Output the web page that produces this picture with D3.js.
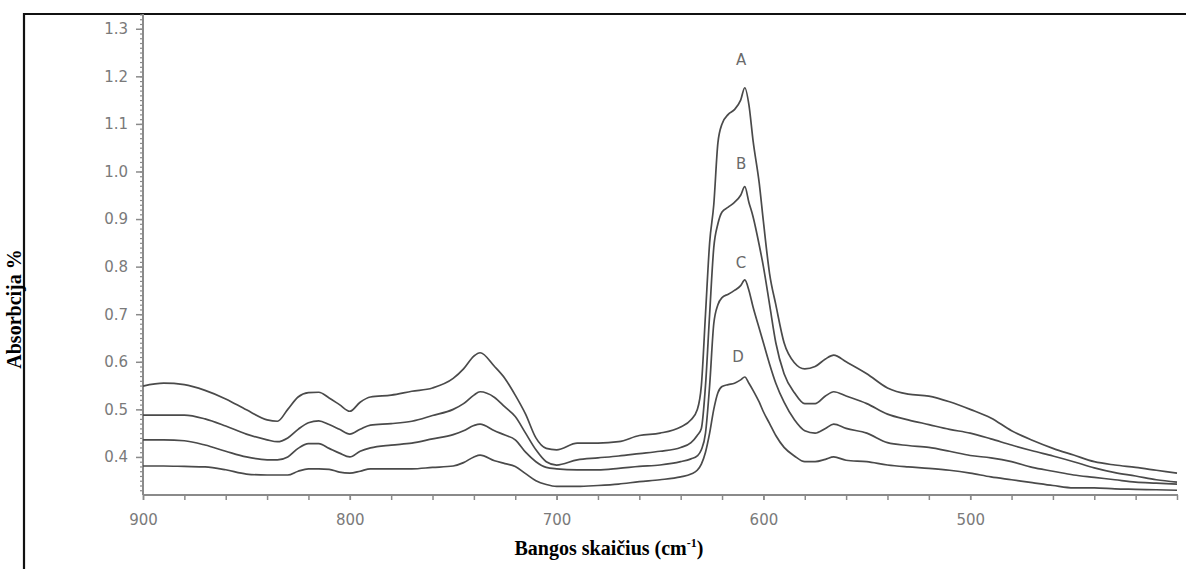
<!DOCTYPE html>
<html>
<head>
<meta charset="utf-8">
<script src="https://cdn.jsdelivr.net/npm/d3@7"></script>
<style>
  html, body { margin: 0; padding: 0; background: #fff; }
  svg { display: block; }
</style>
</head>
<body>
<svg id="chart" width="1186" height="569"></svg>
<script>
// ---- data (wavenumber, cm-1) ----
const wavenumbers = [900, 890, 880, 870, 860, 850, 840, 835, 830, 825, 820, 815, 810, 805, 800, 795, 790, 780, 770, 760, 750, 745, 740, 737, 730, 725, 720, 715, 710, 705, 700, 690, 680, 670, 660, 650, 640, 635, 632, 630, 628, 626, 624, 622, 620, 617, 614, 611, 609, 607, 605, 602, 600, 597, 594, 590, 585, 580, 575, 570, 566, 560, 550, 540, 530, 520, 510, 500, 490, 480, 470, 460, 450, 440, 430, 420, 410, 400];

const seriesA = [0.549, 0.555, 0.552, 0.540, 0.522, 0.499, 0.478, 0.475, 0.500, 0.526, 0.535, 0.536, 0.524, 0.510, 0.496, 0.515, 0.526, 0.530, 0.538, 0.545, 0.565, 0.585, 0.612, 0.619, 0.590, 0.565, 0.530, 0.490, 0.440, 0.418, 0.415, 0.429, 0.429, 0.432, 0.445, 0.450, 0.463, 0.478, 0.499, 0.550, 0.700, 0.850, 0.930, 1.060, 1.100, 1.120, 1.130, 1.150, 1.176, 1.140, 1.065, 0.975, 0.895, 0.785, 0.720, 0.640, 0.598, 0.585, 0.590, 0.606, 0.614, 0.600, 0.575, 0.545, 0.532, 0.528, 0.516, 0.500, 0.482, 0.455, 0.435, 0.418, 0.404, 0.390, 0.383, 0.378, 0.372, 0.366];

const seriesB = [0.488, 0.488, 0.488, 0.480, 0.465, 0.448, 0.436, 0.432, 0.440, 0.458, 0.472, 0.476, 0.468, 0.458, 0.448, 0.458, 0.467, 0.470, 0.475, 0.487, 0.500, 0.512, 0.530, 0.537, 0.525, 0.505, 0.485, 0.450, 0.415, 0.390, 0.383, 0.394, 0.398, 0.402, 0.407, 0.412, 0.420, 0.430, 0.445, 0.460, 0.550, 0.700, 0.840, 0.890, 0.915, 0.925, 0.935, 0.950, 0.968, 0.935, 0.905, 0.845, 0.800, 0.720, 0.640, 0.575, 0.535, 0.512, 0.512, 0.528, 0.537, 0.528, 0.512, 0.490, 0.478, 0.468, 0.458, 0.450, 0.438, 0.425, 0.413, 0.402, 0.390, 0.377, 0.367, 0.360, 0.352, 0.347];

const seriesC = [0.436, 0.436, 0.434, 0.425, 0.412, 0.400, 0.394, 0.394, 0.400, 0.418, 0.428, 0.428, 0.418, 0.408, 0.400, 0.412, 0.419, 0.425, 0.429, 0.438, 0.447, 0.455, 0.466, 0.469, 0.455, 0.446, 0.436, 0.410, 0.390, 0.378, 0.375, 0.373, 0.373, 0.376, 0.380, 0.383, 0.390, 0.396, 0.402, 0.415, 0.450, 0.550, 0.680, 0.720, 0.735, 0.742, 0.750, 0.760, 0.772, 0.750, 0.715, 0.670, 0.640, 0.595, 0.555, 0.515, 0.478, 0.455, 0.450, 0.460, 0.469, 0.460, 0.450, 0.430, 0.424, 0.420, 0.412, 0.403, 0.398, 0.390, 0.378, 0.370, 0.362, 0.357, 0.352, 0.347, 0.345, 0.343];

const seriesD = [0.381, 0.381, 0.380, 0.379, 0.373, 0.364, 0.362, 0.362, 0.362, 0.370, 0.375, 0.375, 0.374, 0.368, 0.366, 0.370, 0.375, 0.375, 0.375, 0.378, 0.381, 0.388, 0.400, 0.404, 0.392, 0.386, 0.380, 0.365, 0.350, 0.342, 0.338, 0.338, 0.340, 0.343, 0.348, 0.352, 0.358, 0.364, 0.372, 0.385, 0.410, 0.450, 0.500, 0.535, 0.548, 0.552, 0.555, 0.562, 0.568, 0.555, 0.540, 0.515, 0.495, 0.470, 0.445, 0.420, 0.402, 0.390, 0.390, 0.395, 0.400, 0.393, 0.390, 0.383, 0.379, 0.376, 0.372, 0.366, 0.358, 0.352, 0.346, 0.340, 0.335, 0.335, 0.333, 0.332, 0.331, 0.330];

const seriesNames = ["A", "B", "C", "D"];
const seriesLabelPos = [[610.8, 1.234], [610.8, 1.014], [610.8, 0.806], [612.3, 0.608]];

const xMajorTicks = [900, 800, 700, 600, 500];
const xMinorTicks = d3.range(900, 399, -20);
const yMajorTicks = [0.4, 0.5, 0.6, 0.7, 0.8, 0.9, 1.0, 1.1, 1.2, 1.3];
const yMinorTicks = d3.range(33, 134).map(d => d / 100);

const xTitle = "Bangos skaičius (cm";
const xTitleSup = "-1";
const yTitle = "Absorbcija %";

// ---- drawing ----
const svg = d3.select("#chart");
const x = d3.scaleLinear().domain([900, 400]).range([143, 1177]);
const y = d3.scaleLinear().domain([0.32, 1.331]).range([495, 14]);

const axisColor = "#8a8a8a";
const textColor = "#7a7a7a";

// outer frame
svg.append("line").attr("x1", 24).attr("x2", 1186).attr("y1", 14).attr("y2", 14)
  .attr("stroke", "#111").attr("stroke-width", 2.2);
svg.append("line").attr("x1", 24).attr("x2", 24).attr("y1", 13).attr("y2", 569)
  .attr("stroke", "#111").attr("stroke-width", 2.2);

// y axis minor
const yMinor = svg.append("g").attr("transform", "translate(143,0)")
  .call(d3.axisLeft(y).tickValues(yMinorTicks).tickSize(3).tickFormat(""));
yMinor.select(".domain").remove();
yMinor.selectAll("line").attr("stroke", axisColor).attr("stroke-width", 1.2);

// y axis major
const yMajor = svg.append("g").attr("transform", "translate(143,0)")
  .call(d3.axisLeft(y).tickValues(yMajorTicks).tickSize(7).tickPadding(8).tickFormat(d3.format(".1f")));
yMajor.select(".domain").attr("stroke", axisColor).attr("stroke-width", 2).attr("d", "M0,14V495");
yMajor.selectAll("line").attr("stroke", axisColor).attr("stroke-width", 1.5);
yMajor.selectAll("text").attr("fill", textColor)
  .style("font-family", "'DejaVu Sans', sans-serif").style("font-size", "15px");

// x axis minor
const xMinor = svg.append("g").attr("transform", "translate(0,495)")
  .call(d3.axisBottom(x).tickValues(xMinorTicks).tickSize(5).tickFormat(""));
xMinor.select(".domain").attr("stroke", axisColor).attr("stroke-width", 2.2).attr("d", "M143,0H1178");
xMinor.selectAll("line").attr("stroke", axisColor).attr("stroke-width", 1.5);

// x axis major labels
const xMajor = svg.append("g").attr("transform", "translate(0,495)")
  .call(d3.axisBottom(x).tickValues(xMajorTicks).tickSize(5).tickPadding(14).tickFormat(d3.format("d")));
xMajor.select(".domain").remove();
xMajor.selectAll("line").attr("stroke", axisColor).attr("stroke-width", 1.5);
xMajor.selectAll("text").attr("fill", textColor)
  .style("font-family", "'DejaVu Sans', sans-serif").style("font-size", "15px");

// spectra
const allSeries = [seriesA, seriesB, seriesC, seriesD];
const line = d3.line()
  .x((d, i) => x(wavenumbers[i]))
  .y(d => y(d))
  .curve(d3.curveMonotoneX);

svg.append("g").selectAll("path").data(allSeries).join("path")
  .attr("d", d => line(d))
  .attr("fill", "none")
  .attr("stroke", "#4a4a4a")
  .attr("stroke-width", 1.7)
  .attr("stroke-linejoin", "round");

// series labels
svg.append("g").selectAll("text").data(seriesNames).join("text")
  .attr("x", (d, i) => x(seriesLabelPos[i][0]))
  .attr("y", (d, i) => y(seriesLabelPos[i][1]))
  .attr("text-anchor", "middle")
  .attr("dominant-baseline", "middle")
  .attr("fill", "#6a6a6a")
  .style("font-family", "'DejaVu Sans', sans-serif")
  .style("font-size", "15px")
  .text(d => d);

// axis titles
const xt = svg.append("text")
  .attr("x", 609).attr("y", 555)
  .attr("text-anchor", "middle")
  .attr("fill", "#000")
  .style("font-family", "'Liberation Serif', 'Times New Roman', serif")
  .style("font-weight", "bold")
  .style("font-size", "20px");
xt.append("tspan").text(xTitle);
xt.append("tspan").attr("dy", -8).style("font-size", "12px").text(xTitleSup);
xt.append("tspan").attr("dy", 8).text(")");

svg.append("text")
  .attr("transform", "translate(21,309) rotate(-90)")
  .attr("text-anchor", "middle")
  .attr("fill", "#000")
  .style("font-family", "'Liberation Serif', 'Times New Roman', serif")
  .style("font-weight", "bold")
  .style("font-size", "20px")
  .text(yTitle);
</script>
</body>
</html>
